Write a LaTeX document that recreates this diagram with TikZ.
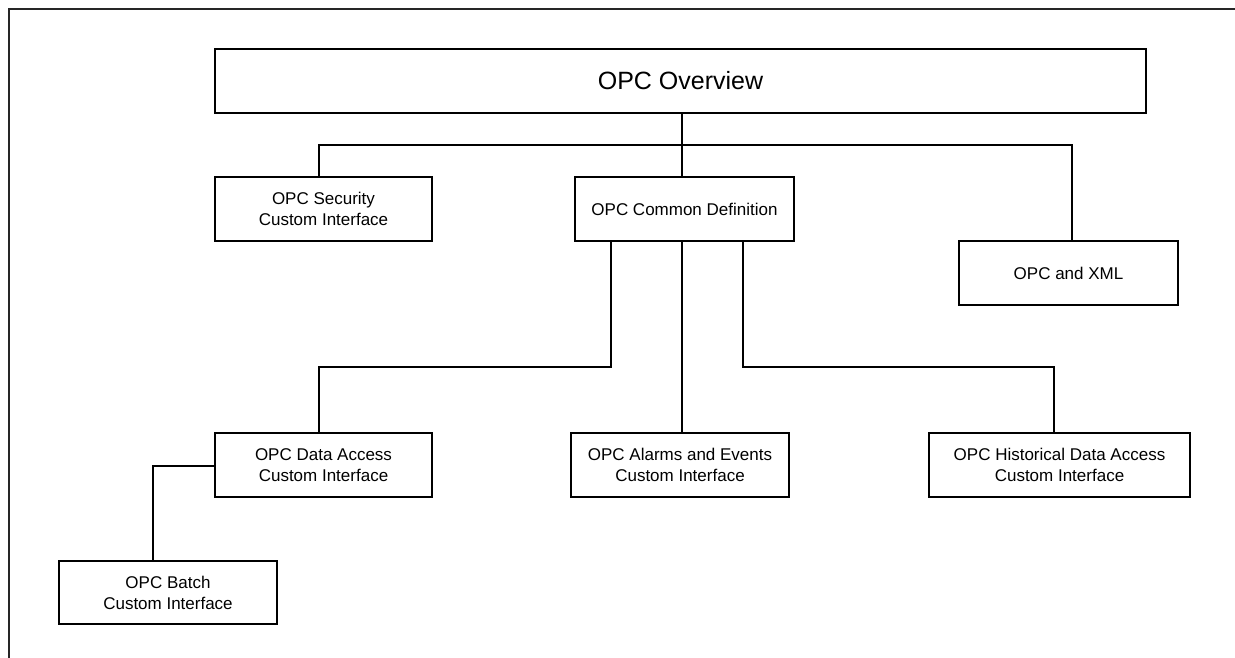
\documentclass[tikz,border=0pt]{standalone}
\usepackage{fontspec}
\setmainfont{Liberation Sans}
\begin{document}
\begin{tikzpicture}[x=1pt,y=1pt,
  box/.style={draw=black, line width=1.8pt, inner sep=0pt, align=center,
    font=\fontsize{17}{21}\selectfont, text=black},
  conn/.style={draw=black, line width=1.8pt},
  frame/.style={draw=black!85, line width=2pt}]
\useasboundingbox (0,0) rectangle (1235,-657);
% nodes
\node[box, minimum width=931pt, minimum height=64pt, font=\fontsize{25}{30}\selectfont] (ov) at (680.5,-81) {OPC Overview};
\node[box, minimum width=217pt, minimum height=64pt] (sec) at (323.5,-209) {OPC Security\\Custom Interface};
\node[box, minimum width=219pt, minimum height=64pt] (com) at (684.5,-209) {OPC Common Definition};
\node[box, minimum width=219pt, minimum height=64pt] (xml) at (1068.5,-273) {OPC and XML};
\node[box, minimum width=217pt, minimum height=64pt] (da) at (323.5,-465) {OPC Data Access\\Custom Interface};
\node[box, minimum width=218pt, minimum height=64pt] (ae) at (680,-465) {OPC Alarms and Events\\Custom Interface};
\node[box, minimum width=261pt, minimum height=64pt] (hda) at (1059.5,-465) {OPC Historical Data Access\\Custom Interface};
\node[box, minimum width=218pt, minimum height=63pt] (bat) at (168,-592.5) {OPC Batch\\Custom Interface};
% frame
\coordinate (fa) at (9,-660);
\coordinate (fb) at (9,-9);
\coordinate (fc) at (1240,-9);
\draw[frame] (fa) -- (fb) -- (fc);
% connector coordinates
\coordinate (t) at (682,-145);
\coordinate (bl) at (319,-145);
\coordinate (br) at (1072,-145);
\coordinate (cl) at (611,-367);
\coordinate (dl) at (319,-367);
\coordinate (cr) at (743,-367);
\coordinate (hr) at (1054,-367);
\coordinate (bj) at (153,-466);
% connectors
\draw[conn] (ov.south -| t) -- (com.north -| t);
\draw[conn] (sec.north -| bl) -- (bl) -- (br) -- (xml.north -| br);
\draw[conn] (com.south -| cl) -- (cl) -- (dl) -- (da.north -| dl);
\draw[conn] (com.south -| t) -- (ae.north -| t);
\draw[conn] (com.south -| cr) -- (cr) -- (hr) -- (hda.north -| hr);
\draw[conn] (da.west |- bj) -- (bj) -- (bat.north -| bj);
\end{tikzpicture}
\end{document}
